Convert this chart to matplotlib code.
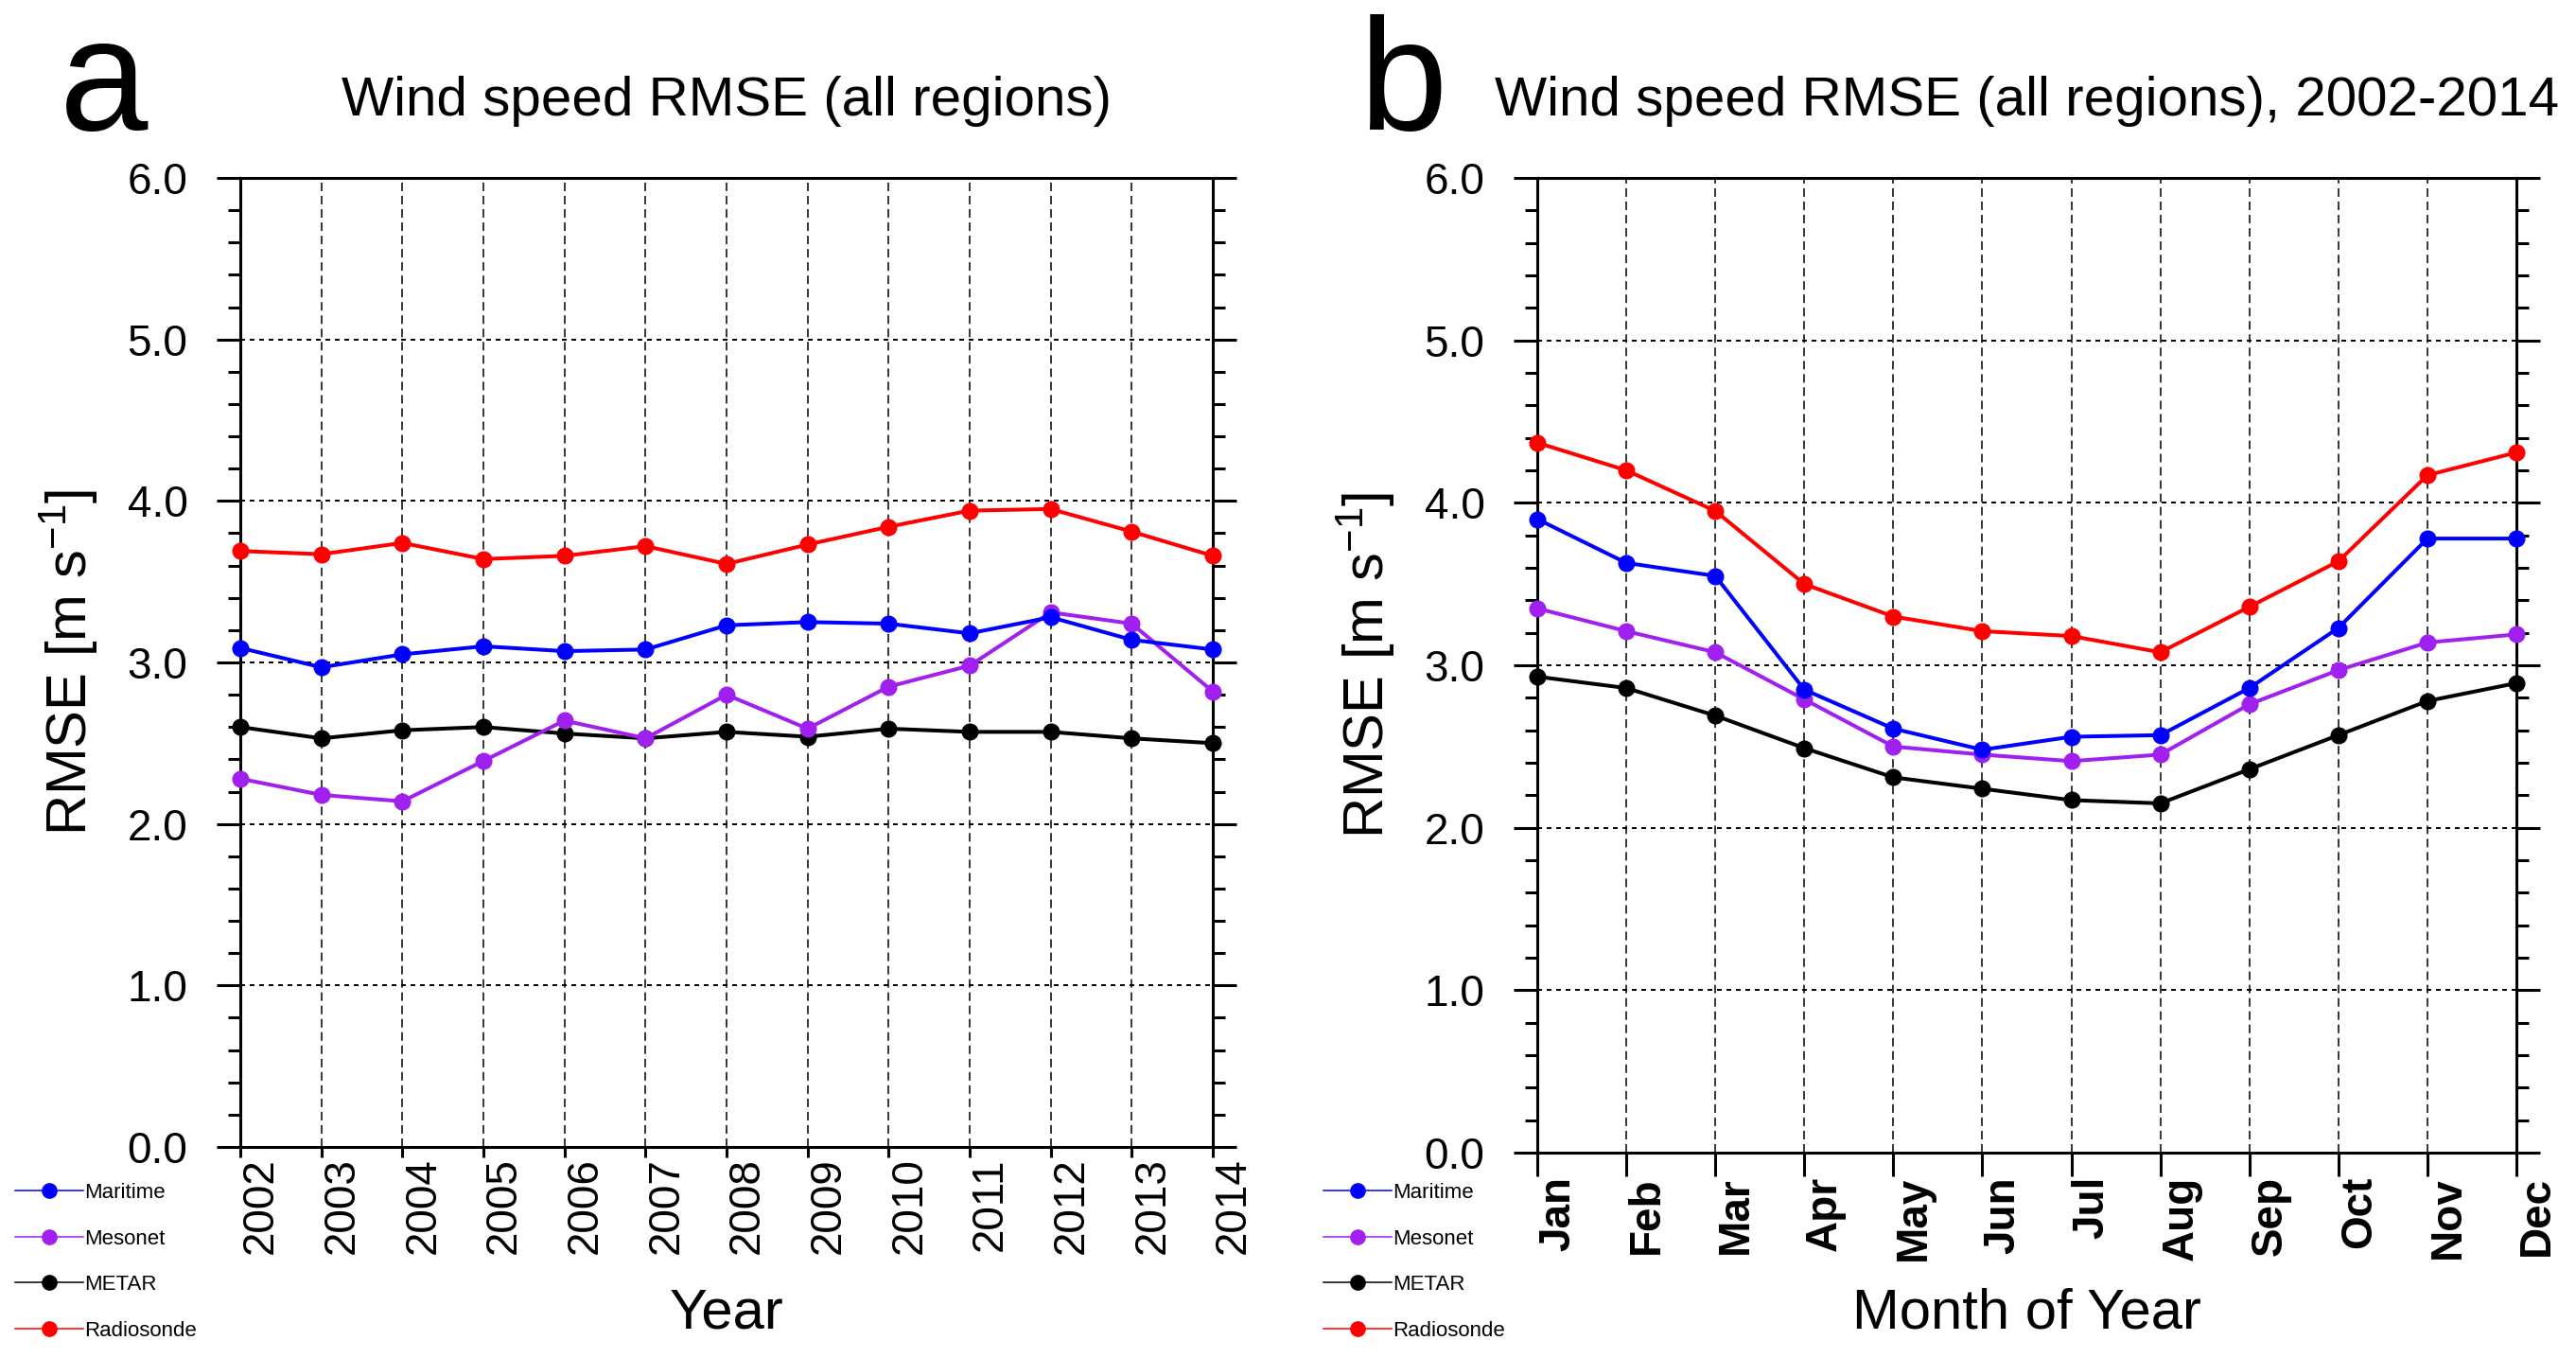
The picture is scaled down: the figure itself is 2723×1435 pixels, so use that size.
import matplotlib
matplotlib.use('Agg')
import matplotlib.pyplot as plt
from matplotlib.lines import Line2D
from matplotlib.ticker import MultipleLocator, FormatStrFormatter

plt.rcParams['font.family'] = ['Liberation Sans', 'DejaVu Sans']
plt.rcParams['mathtext.fontset'] = 'custom'
plt.rcParams['mathtext.rm'] = 'Liberation Sans'
plt.rcParams['mathtext.default'] = 'regular'
plt.rcParams['lines.scale_dashes'] = False

# Data
years = [2002, 2003, 2004, 2005, 2006, 2007, 2008, 2009, 2010, 2011, 2012, 2013, 2014]
year_labels = [str(y) for y in years]
maritime_yr = [3.09, 2.97, 3.05, 3.10, 3.07, 3.08, 3.23, 3.25, 3.24, 3.18, 3.28, 3.14, 3.08]
mesonet_yr = [2.28, 2.18, 2.14, 2.39, 2.64, 2.53, 2.80, 2.59, 2.85, 2.98, 3.31, 3.24, 2.82]
metar_yr = [2.60, 2.53, 2.58, 2.60, 2.56, 2.53, 2.57, 2.54, 2.59, 2.57, 2.57, 2.53, 2.50]
radiosonde_yr = [3.69, 3.67, 3.74, 3.64, 3.66, 3.72, 3.61, 3.73, 3.84, 3.94, 3.95, 3.81, 3.66]

months = [1, 2, 3, 4, 5, 6, 7, 8, 9, 10, 11, 12]
month_labels = ['Jan', 'Feb', 'Mar', 'Apr', 'May', 'Jun', 'Jul', 'Aug', 'Sep', 'Oct', 'Nov', 'Dec']
maritime_mo = [3.90, 3.63, 3.55, 2.85, 2.61, 2.48, 2.56, 2.57, 2.86, 3.23, 3.78, 3.78]
mesonet_mo = [3.35, 3.21, 3.08, 2.79, 2.50, 2.45, 2.41, 2.45, 2.76, 2.97, 3.14, 3.19]
metar_mo = [2.93, 2.86, 2.69, 2.49, 2.31, 2.24, 2.17, 2.15, 2.36, 2.57, 2.78, 2.89]
radiosonde_mo = [4.37, 4.20, 3.95, 3.50, 3.30, 3.21, 3.18, 3.08, 3.36, 3.64, 4.17, 4.31]

names = ['Maritime', 'Mesonet', 'METAR', 'Radiosonde']
colors = ['#0000ff', '#a020f0', '#000000', '#ff0000']

W, H = 2723, 1435
fig = plt.figure(figsize=(W / 100, H / 100), dpi=100)


def make_panel(rect, x, series, xlabels, title, letter, letter_x, xlab,
               xtick_len, bold_x, legend_x):
    ax = fig.add_axes([rect[0] / W, 1 - rect[3] / H,
                       (rect[2] - rect[0]) / W, (rect[3] - rect[1]) / H])
    # draw Radiosonde first, Maritime last (on top)
    for i in [3, 2, 1, 0]:
        ax.plot(x, series[i], '-o', color=colors[i], lw=2.9, ms=12,
                clip_on=False, zorder=3)
    ax.set_xlim(x[0], x[-1])
    ax.set_ylim(0, 6)

    ax.set_xticks(x)
    ax.set_xticklabels(xlabels, rotation=90, ha='left', va='top',
                       fontsize=33, fontweight='bold' if bold_x else 'normal')
    ax.yaxis.set_major_locator(MultipleLocator(1.0))
    ax.yaxis.set_minor_locator(MultipleLocator(0.2))
    ax.yaxis.set_major_formatter(FormatStrFormatter('%.1f'))
    ax.tick_params(axis='y', which='major', direction='out', left=True, right=True,
                   length=18, width=2.2, labelsize=33, pad=22)
    ax.tick_params(axis='y', which='minor', direction='out', left=True, right=True,
                   length=9.4, width=2.2)
    ax.tick_params(axis='x', which='major', direction='out', bottom=True, top=False,
                   length=xtick_len, width=2.2, pad=0)
    for s in ax.spines.values():
        s.set_linewidth(2.2)

    ax.grid(axis='x', color='black', lw=1.1, ls=(0, (6.5, 3.6)))
    ax.grid(axis='y', which='major', color='black', lw=1.4, ls=(0, (3.6, 3.6)))

    ax.set_title(title, fontsize=42, y=1 + (rect[1] - 122) / (rect[3] - rect[1]), pad=0)
    fig.text(letter_x / W, 1 - 137 / H, letter, fontsize=121, va='baseline')

    ax.set_xlabel(xlab, fontsize=43)
    ax.xaxis.set_label_coords(0.5, -(1360 - rect[3]) / (rect[3] - rect[1]))
    ax.set_ylabel('RMSE [m s$^{-1}$]', fontsize=43)
    ax.yaxis.set_label_coords(-148 / (rect[2] - rect[0]), 0.5)

    handles = [Line2D([], [], color=colors[i], lw=1.1, marker='o', ms=11,
                      label=names[i]) for i in range(4)]
    ax.legend(handles=handles, loc='upper left',
              bbox_to_anchor=(legend_x / W, 1 - 1250 / H),
              bbox_transform=fig.transFigure, frameon=False, fontsize=16,
              handlelength=3.25, handletextpad=0.05, labelspacing=1.24,
              borderpad=0, borderaxespad=0, numpoints=1)
    return ax


make_panel((254, 188, 1282, 1212), years,
           [maritime_yr, mesonet_yr, metar_yr, radiosonde_yr], year_labels,
           'Wind speed RMSE (all regions)', 'a', 63, 'Year', 8, False, 16)
make_panel((1625, 188, 2660, 1218), months,
           [maritime_mo, mesonet_mo, metar_mo, radiosonde_mo], month_labels,
           'Wind speed RMSE (all regions), 2002-2014', 'b', 1436, 'Month of Year',
           18, True, 1399)

fig.savefig('out.png', dpi=100)
